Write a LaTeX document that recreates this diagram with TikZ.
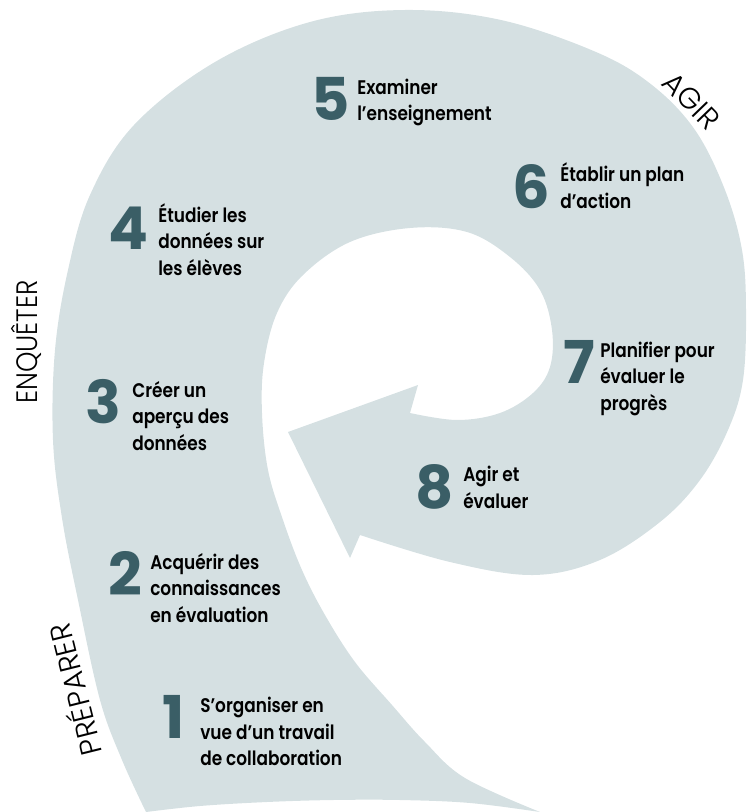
\documentclass[tikz,border=0pt]{standalone}
\usepackage{fontspec}
\setmainfont{Poppins}
\newfontfamily\stagefont{Poppins SemiBold}[FakeStretch=0.86]
\newfontfamily\phasefont{Poppins Light}
\usepackage{xcolor}
\definecolor{spiralgray}{HTML}{D5E0E2}
\definecolor{numteal}{HTML}{3A5E66}

\begin{document}
\begin{tikzpicture}[x=0.25mm,y=-0.25mm]
\tikzstyle{stage}=[anchor=base west,inner sep=0pt,align=left,font=\stagefont\fontsize{14}{18.5}\selectfont]
\tikzstyle{num}=[anchor=base east,inner sep=0pt,text=numteal,font=\bfseries\fontsize{42}{42}\selectfont]
\tikzstyle{phase}=[anchor=base,inner sep=0pt,font=\phasefont\fontsize{21}{21}\selectfont]

\useasboundingbox (0,0) rectangle (748,812);

% the spiral band, ending in the arrow head
\fill[spiralgray] plot[smooth,tension=0.6] coordinates {(146,812) (122,760) (100,700) (78,600) (62,518) (53,440) (55,350) (68,270) (90,195) (134,125) (215,62) (310,22) (405,10) (501,20) (596,52) (652,85) (695,130) (725,190) (742,250) (746,310) (743,380) (728,430) (700,480) (660,522) (600,560) (533,575) (450,562) (360,535)}
  -- (350,558) -- (288,432) -- (418,385)
  -- plot[smooth,tension=0.6] coordinates {(410,413) (457,420) (500,413) (533,393) (550,367) (552,330) (540,290) (510,257) (467,232) (410,228) (350,242) (303,275) (277,313) (264,363) (262,413) (268,470) (283,520) (302,570) (325,615) (355,662) (392,705) (425,742) (465,778) (540,812)}
  -- plot[smooth,tension=0.6] coordinates {(540,812) (470,803) (400,800) (333,800) (267,802) (200,806) (146,812)}
  -- cycle;

\node[phase,rotate=90](enq) at (37,342){\addfontfeature{FakeStretch=0.88}ENQUÊTER};
\node[phase,rotate=104](prep) at (86,687){PRÉPARER};
\node[phase,rotate=-46](agir) at (684,108){AGIR};

% anchor base = last line
\node[stage](s1) at (200,765){S’organiser en\\vue d’un travail\\de collaboration};
\node[stage](s2) at (150,622){Acquérir des\\connaissances\\en évaluation};
\node[stage](s3) at (132,450){Créer un\\aperçu des\\données};
\node[stage](s4) at (158,275){Étudier les\\données sur\\les élèves};
\node[stage](s5) at (357,121){Examiner\\l’enseignement};
\node[stage](s6) at (560,208){Établir un plan\\d’action};
\node[stage](s7) at (600,410){Planifier pour\\évaluer le\\progrès};
\node[stage](s8) at (463,508){Agir et\\évaluer};

\node[num](n1) at (185,738){1};
\node[num](n2) at (142,595){2};
\node[num](n3) at (122,423){3};
\node[num](n4) at (149,249){4};
\node[num](n5) at (350,121){5};
\node[num](n6) at (550,208){6};
\node[num](n7) at (595,383){7};
\node[num](n8) at (454,508){8};
\end{tikzpicture}
\end{document}
